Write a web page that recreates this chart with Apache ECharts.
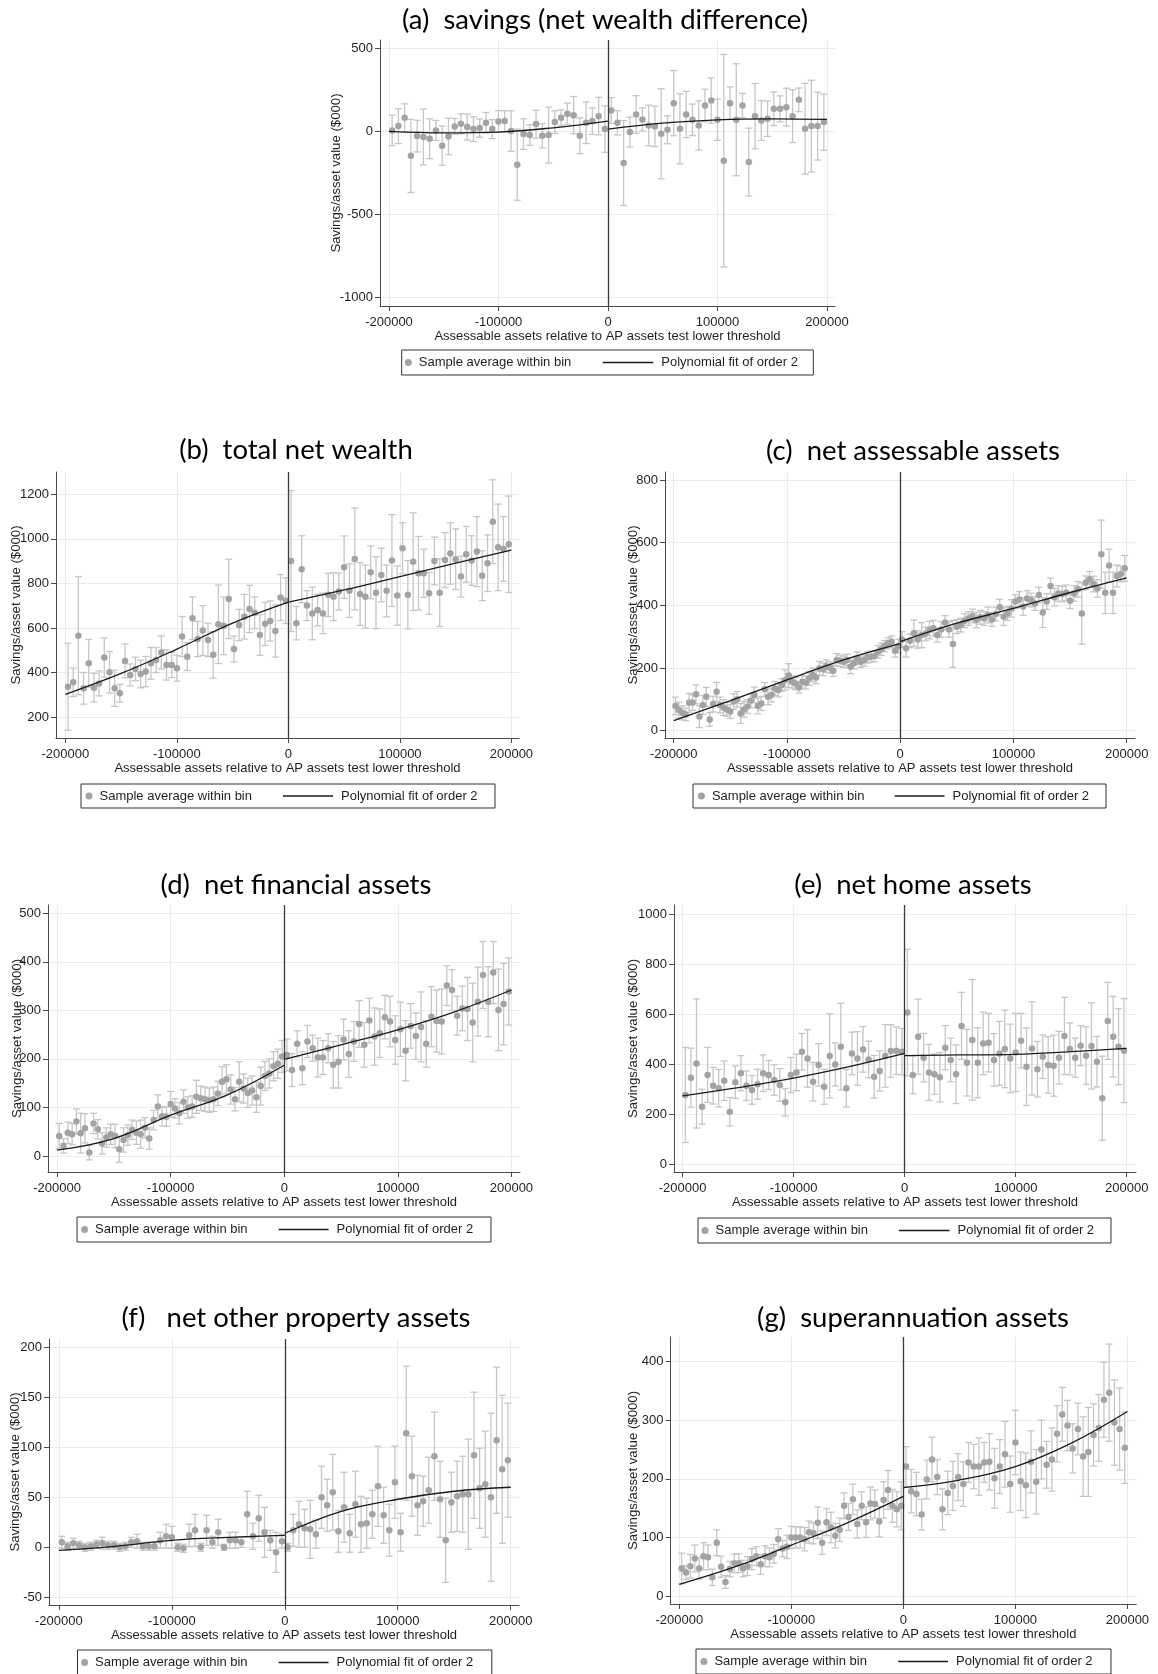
<!DOCTYPE html>
<html><head><meta charset="utf-8">
<script src="https://cdn.jsdelivr.net/npm/echarts@6/dist/echarts.min.js"></script>
<style>html,body{margin:0;padding:0;background:#fff}#c{width:1158px;height:1674px}</style>
</head><body><div id="c"></div>
<script>
// ---------- DATA ----------
const xTicks = [-200000, -100000, 0, 100000, 200000];
const fitXLeft = [-200000, -150000, -100000, -50000, 0];
const fitXRight = [0, 50000, 100000, 150000, 200000];

// (a) savings
const aYTicks = [-1000, -500, 0, 500];
const aLeftY = [6,32,82,-147,-28,-34,-44,6,-86,-30,30,46,26,14,20,52,14,60,62,2,-200,-16,-22,44,-26,-22,56,82,106,98,-26,52,62,92,14];
const aLeftCI = [92,105,84,220,95,168,120,60,118,110,48,60,78,75,55,62,57,65,63,122,214,92,62,84,73,168,68,48,64,112,108,125,80,113,140];
const aRightY = [126,52,-190,-4,102,72,36,30,-14,10,170,16,102,70,36,156,186,70,-176,170,70,156,-184,92,66,76,136,136,146,92,190,16,32,32,56];
const aRightCI = [77,73,255,90,113,70,122,122,271,84,196,211,139,95,148,98,136,124,639,98,337,73,204,196,120,106,101,78,114,159,71,273,276,204,169];
const aFitL = [0,-9,-4,22,62];
const aFitR = [14,50,70,76,72];

// (b) total net wealth
const bYTicks = [200, 400, 600, 800, 1000, 1200];
const bLeftY = [337,357,566,330,442,333,352,468,402,330,308,453,390,417,394,405,442,457,491,435,435,420,562,472,644,551,589,547,480,617,610,731,506,614,651,686,669,569,619,632,587,737,723];
const bLeftCI = [195,64,265,71,107,64,56,88,93,81,40,76,49,53,62,68,71,56,74,68,57,58,90,62,96,79,112,75,104,176,129,178,58,70,100,106,71,91,97,90,117,103,103];
const bRightY = [901,622,864,701,666,681,666,749,741,764,873,768,910,753,741,850,759,838,767,903,746,958,750,898,846,846,756,901,759,905,935,909,831,931,903,943,835,891,1077,962,955,976];
const bRightCI = [316,75,150,67,118,71,91,97,107,83,140,120,228,141,141,118,161,120,116,206,133,115,153,219,165,108,94,107,152,123,138,136,92,125,111,157,112,127,188,194,145,216];
const bFitL = [303,397,506,622,716];
const bFitR = [716,771,831,891,950];

// (c) net assessable assets
const cYTicks = [0, 200, 400, 600, 800];
const cLeftY = [79,66,57,52,89,90,116,45,82,108,36,85,124,82,74,68,61,93,100,55,68,77,96,114,79,87,132,108,114,135,130,146,162,176,156,151,138,156,153,167,178,170,199,196,206,202,191,226,223,220,226,204,215,231,220,226,234,236,238,252,260,270,279,284,255,270];
const cLeftCI = [28,25,22,20,30,25,30,35,30,30,22,25,30,25,25,22,22,25,25,32,25,22,22,25,25,22,22,25,22,22,22,20,32,38,20,20,18,20,20,22,22,20,22,20,20,18,18,20,18,18,18,22,18,20,18,20,18,18,18,20,20,18,18,18,20,22];
const cRightY = [291,263,287,311,291,305,309,321,327,305,323,345,323,277,332,337,351,358,366,353,362,358,369,355,372,394,364,374,390,412,419,396,422,417,406,433,377,412,462,426,438,436,440,415,438,451,374,472,483,468,454,563,440,527,440,494,500,518];
const cRightCI = [25,28,22,42,28,40,22,28,25,22,25,22,25,75,22,22,22,22,22,25,22,22,25,22,22,25,28,22,28,22,25,28,25,22,22,25,48,25,25,28,25,25,25,25,25,25,98,22,25,25,28,109,66,52,66,35,25,41];
const cFitL = [32,96,162,226,278];
const cFitR = [284,343,390,441,488];

// (d) net financial assets
const dYTicks = [0, 100, 200, 300, 400, 500];
const dLeftY = [41,21,48,45,71,47,57,7,67,55,26,38,45,41,14,33,43,54,48,45,58,36,74,102,82,81,107,98,88,112,100,102,122,119,117,115,117,129,153,158,137,117,153,139,130,135,121,144,165,170,185,190,205];
const dLeftCI = [26,15,22,22,26,41,30,15,21,20,22,20,21,24,27,25,21,20,24,29,21,22,20,24,20,20,26,20,22,24,22,22,34,25,25,25,25,25,31,30,30,24,41,30,30,30,31,39,30,30,30,30,33];
const dRightY = [208,177,231,181,236,222,203,203,222,188,194,240,210,236,272,229,279,246,253,286,277,239,261,217,268,247,266,231,287,278,277,351,342,289,304,303,275,318,373,318,378,301,313,339];
const dRightCI = [33,34,27,34,33,27,40,35,30,48,54,42,48,41,48,46,46,59,50,45,52,50,56,62,46,48,72,48,62,64,67,41,42,40,46,65,81,71,69,72,64,84,84,69];
const dFitL = [12,36,84,126,187];
const dFitR = [199,229,260,297,342];

// (e) net home assets
const eYTicks = [0, 200, 400, 600, 800, 1000];
const eLeftY = [277,346,403,230,357,314,304,334,210,328,364,314,297,320,364,357,337,317,248,357,367,450,423,330,397,310,433,399,470,304,443,423,459,419,350,373,433,453,454,450];
const eLeftCI = [190,118,258,70,110,73,75,79,57,65,70,59,57,60,73,58,61,65,55,70,73,73,115,77,85,70,168,86,173,75,85,107,91,73,85,80,125,105,95,93];
const eRightY = [606,357,510,426,367,360,348,466,417,360,553,406,497,406,483,486,417,443,461,423,447,494,390,463,380,430,397,394,426,513,461,426,474,434,473,410,264,573,510,470,454];
const eRightCI = [253,75,150,97,112,80,99,88,87,117,134,133,241,140,125,117,105,128,155,137,156,109,155,186,111,87,113,122,105,154,104,78,80,115,172,101,168,154,161,152,208];
const eFitL = [273,306,344,390,443];
const eFitR = [434,437,439,450,463];

// (f) net other property assets
const fYTicks = [-50, 0, 50, 100, 150, 200];
const fLeftY = [5,1,4,2,0,1,3,4,2,2,0,1,5,6,1,1,1,7,11,10,0,-1,12,17,0,17,5,15,0,7,7,5,33,11,29,15,7,-5,6];
const fLeftCI = [6,4,5,4,4,4,4,6,4,4,4,4,5,7,4,4,4,8,12,11,4,4,11,16,4,15,6,13,3,8,8,5,23,13,23,25,10,20,7];
const fRightY = [0,17,23,19,18,13,50,42,55,16,40,14,43,23,24,33,61,32,17,65,15,114,71,42,46,57,91,48,7,45,51,53,53,92,59,63,50,107,78,87];
const fRightCI = [4,16,23,19,29,14,31,26,38,21,35,19,33,28,25,24,40,28,26,36,19,67,40,30,25,33,44,38,42,30,35,38,55,63,40,53,84,73,74,57];
const fFitL = [-3,1,7,10,12];
const fFitR = [14,36,48,56,60];

// (g) superannuation assets
const gYTicks = [0, 100, 200, 300, 400];
const gLeftY = [47,40,51,64,47,68,66,32,91,50,24,46,56,56,47,51,63,68,54,68,66,72,97,81,84,100,100,100,97,109,107,125,91,126,117,103,113,154,135,165,123,154,126,158,157,127,164,181,154,148,154];
const gLeftCI = [26,12,20,23,18,23,21,14,22,18,11,13,16,16,14,16,18,16,17,18,16,16,18,14,20,19,18,18,20,19,18,27,20,23,26,21,20,22,23,26,24,24,26,28,24,26,31,33,28,30,41];
const gRightY = [221,179,174,139,199,233,203,148,176,188,203,191,228,221,221,228,229,201,221,242,191,262,196,189,229,195,250,224,233,277,310,291,252,285,238,246,275,287,335,347,296,285,253];
const gRightCI = [34,37,37,26,33,38,30,35,37,42,40,38,34,38,49,34,48,51,46,56,48,55,50,55,53,55,50,40,54,48,46,43,42,44,68,76,53,57,64,83,73,70,61];
const gFitL = [20,50,87,125,170];
const gFitR = [185,198,221,261,315];

const titles = ['(a)  savings (net wealth difference)', '(b)  total net wealth', '(c)  net assessable assets',
  '(d)  net financial assets', '(e)  net home assets', '(f)   net other property assets', '(g)  superannuation assets'];
const xName = 'Assessable assets relative to AP assets test lower threshold';
const yName = 'Savings/asset value ($000)';
const dotName = 'Sample average within bin';
const fitName = 'Polynomial fit of order 2';

// ---------- LAYOUT ----------
const panels = [
  {yTicks:aYTicks, L:[aLeftY,aLeftCI], R:[aRightY,aRightCI], fit:[aFitL,aFitR],
   g:{l:380,r:835,t:40,b:306}, xRef:[389,827], yRef:[[500,48.3],[-1000,297.7]], tx:605, ty:20, yGap:37,
   lg:{box:[401.7,350,813.3,375], dot:408.3, line:[602.7,653.3]}},
  {yTicks:bYTicks, L:[bLeftY,bLeftCI], R:[bRightY,bRightCI], fit:[bFitL,bFitR],
   g:{l:56,r:519,t:472,b:738}, xRef:[65.4,511.4], yRef:[[1200,494.3],[200,717.3]], tx:296, ty:450, yGap:33,
   lg:{box:[81,784,495,808], dot:89, line:[283,333]}},
  {yTicks:cYTicks, L:[cLeftY,cLeftCI], R:[cRightY,cRightCI], fit:[cFitL,cFitR],
   g:{l:665,r:1135,t:472,b:738}, xRef:[673.7,1126.7], yRef:[[800,480],[0,730.7]], tx:913, ty:451, yGap:25,
   lg:{box:[693,784,1106,808], dot:701.4, line:[894.7,944.5]}},
  {yTicks:dYTicks, L:[dLeftY,dLeftCI], R:[dRightY,dRightCI], fit:[dFitL,dFitR],
   g:{l:48,r:520,t:905,b:1172}, xRef:[57.1,511.4], yRef:[[500,913.3],[0,1156]], tx:296, ty:885, yGap:24,
   lg:{box:[77,1217,491,1242], dot:84.6, line:[278.6,328.6]}},
  {yTicks:eYTicks, L:[eLeftY,eLeftCI], R:[eRightY,eRightCI], fit:[eFitL,eFitR],
   g:{l:674,r:1136,t:905,b:1172}, xRef:[682.6,1126.7], yRef:[[1000,914],[0,1164.3]], tx:913, ty:885, yGap:34,
   lg:{box:[698,1218,1111,1243], dot:705, line:[898.9,949.5]}},
  {yTicks:fYTicks, L:[fLeftY,fLeftCI], R:[fRightY,fRightCI], fit:[fFitL,fFitR],
   g:{l:49,r:519,t:1339,b:1605}, xRef:[58.9,510.7], yRef:[[200,1347.2],[-50,1597.3]], tx:296, ty:1318, yGap:27,
   lg:{box:[77.5,1650,491.8,1675], dot:84.6, line:[278.6,328.6]}},
  {yTicks:gYTicks, L:[gLeftY,gLeftCI], R:[gRightY,gRightCI], fit:[gFitL,gFitR],
   g:{l:670.5,r:1136.3,t:1337,b:1604}, xRef:[679.4,1127.4], yRef:[[400,1361.7],[0,1596]], tx:913, ty:1318, yGap:31,
   lg:{box:[696,1649,1111,1674], dot:703.9, line:[898.2,948]}}
];

// bin centres of n equal-width bins on one side of the threshold
function binCenters(n, side) {
  const w = 200000 / n, start = side < 0 ? -200000 : 0;
  return Array.from({length: n}, (_, i) => start + (i + 0.5) * w);
}

const FONT = '"Liberation Sans", Arial, sans-serif';
const TFONT = 'Lato, "Open Sans", sans-serif';
const DOT = '#a3a3a3', BAR = '#c6c6c6', AX = '#4a4a4a', TXT = '#1f1f1f';
const plain = v => String(Math.round(v));

function renderErr(params, api) {
  const x = api.value(0), y = api.value(1), h = api.value(2);
  const top = api.coord([x, y + h]);
  const bot = api.coord([x, y - h]);
  const w = 3.5;
  const st = {stroke: BAR, lineWidth: 1.3};
  return {type: 'group', children: [
    {type: 'line', shape: {x1: top[0], y1: top[1], x2: bot[0], y2: bot[1]}, style: st},
    {type: 'line', shape: {x1: top[0] - w, y1: top[1], x2: top[0] + w, y2: top[1]}, style: st},
    {type: 'line', shape: {x1: bot[0] - w, y1: bot[1], x2: bot[0] + w, y2: bot[1]}, style: st}
  ]};
}

const grid = [], xAxis = [], yAxis = [], series = [], title = [], legend = [], graphic = [];
panels.forEach((p, i) => {
  const g = p.g;
  grid.push({left: g.l, top: g.t, width: g.r - g.l, height: g.b - g.t});
  const upx = 400000 / (p.xRef[1] - p.xRef[0]);
  const xMin = -200000 - (p.xRef[0] - g.l) * upx;
  const xMax = 200000 + (g.r - p.xRef[1]) * upx;
  const [[v1, p1], [v2, p2]] = p.yRef;
  const vpx = (v1 - v2) / (p2 - p1);
  const yMax = v1 + (p1 - g.t) * vpx;
  const yMin = v2 - (g.b - p2) * vpx;

  xAxis.push({type: 'value', gridIndex: i, min: xMin, max: xMax,
    name: xName, nameLocation: 'middle', nameGap: 24, nameMoveOverlap: false,
    nameTextStyle: {fontFamily: FONT, fontSize: 13, color: TXT},
    axisLine: {show: true, onZero: false, lineStyle: {color: AX, width: 1}},
    axisTick: {show: true, length: 5, customValues: xTicks, lineStyle: {color: AX}},
    axisLabel: {customValues: xTicks, formatter: plain, margin: 10, fontFamily: FONT, fontSize: 13, color: TXT},
    splitLine: {show: true, lineStyle: {color: '#ebebeb', width: 1}}});
  yAxis.push({type: 'value', gridIndex: i, min: yMin, max: yMax,
    name: yName, nameLocation: 'middle', nameGap: p.yGap, nameMoveOverlap: false,
    nameTextStyle: {fontFamily: FONT, fontSize: 13.2, color: TXT},
    axisLine: {show: true, onZero: false, lineStyle: {color: AX, width: 1}},
    axisTick: {show: true, length: 5, customValues: p.yTicks, lineStyle: {color: AX}},
    axisLabel: {customValues: p.yTicks, formatter: plain, margin: 7, fontFamily: FONT, fontSize: 13, color: TXT},
    splitLine: {show: true, lineStyle: {color: '#ebebeb', width: 1}}});

  const xl = binCenters(p.L[0].length, -1), xr = binCenters(p.R[0].length, 1);
  const sides = [[xl, p.L], [xr, p.R]];
  sides.forEach(([xs, [ys, ci]]) => {
    series.push({type: 'custom', name: 'ci', xAxisIndex: i, yAxisIndex: i, silent: true, z: 2,
      renderItem: renderErr, encode: {x: 0, y: 1},
      data: ys.map((y, k) => [xs[k], y, ci[k]])});
  });
  sides.forEach(([xs, [ys]], s) => {
    const sc = {type: 'scatter', name: dotName, xAxisIndex: i, yAxisIndex: i, silent: true, z: 3,
      symbolSize: 6.5, itemStyle: {color: DOT, opacity: 1},
      data: ys.map((y, k) => [xs[k], y])};
    if (s === 0) sc.markLine = {silent: true, symbol: ['none', 'none'], label: {show: false},
      lineStyle: {color: '#3a3a3a', width: 1.3, type: 'solid'}, data: [{xAxis: 0}]};
    series.push(sc);
  });
  [[fitXLeft, p.fit[0]], [fitXRight, p.fit[1]]].forEach(([fx, fy]) => {
    series.push({type: 'line', name: fitName, xAxisIndex: i, yAxisIndex: i, silent: true, z: 4,
      smooth: 0.4, showSymbol: false, symbol: 'none', color: '#1a1a1a',
      lineStyle: {color: '#1a1a1a', width: 1.3},
      data: fx.map((x, k) => [x, fy[k]])});
  });

  title.push({text: titles[i], left: p.tx, top: p.ty - 17, textAlign: 'center', padding: 0,
    textStyle: {fontFamily: TFONT, fontSize: 27.5, fontWeight: 'normal', color: '#000', lineHeight: 34}});

  const [bx1, by1, bx2, by2] = p.lg.box;
  const cy = (by1 + by2) / 2;
  graphic.push({type: 'rect', silent: true, shape: {x: bx1, y: by1, width: bx2 - bx1, height: by2 - by1},
    style: {fill: 'none', stroke: '#333', lineWidth: 1}});
  legend.push({left: p.lg.dot - 3.5, top: cy - 8, padding: 0, itemWidth: 7, itemHeight: 7, selectedMode: false,
    data: [{name: dotName, icon: 'circle'}],
    textStyle: {fontFamily: FONT, fontSize: 13, color: TXT, lineHeight: 16, padding: [0, 0, 0, 2]}});
  legend.push({left: p.lg.line[0], top: cy - 8, padding: 0, itemWidth: p.lg.line[1] - p.lg.line[0], itemHeight: 1.4,
    selectedMode: false, data: [{name: fitName, icon: 'rect'}],
    textStyle: {fontFamily: FONT, fontSize: 13, color: TXT, lineHeight: 16, padding: [0, 0, 0, 3]}});
});

const chart = echarts.init(document.getElementById('c'), null, {renderer: 'canvas'});
chart.setOption({animation: false, backgroundColor: '#fff', grid, xAxis, yAxis, series, title, legend, graphic});
</script>
</body></html>
